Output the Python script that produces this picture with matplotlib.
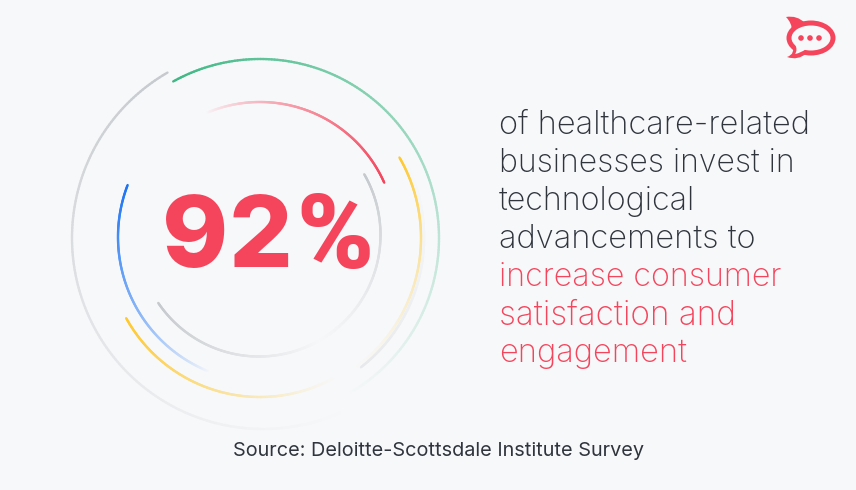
import matplotlib
matplotlib.use("Agg")
import matplotlib.pyplot as plt
import numpy as np
from matplotlib.collections import LineCollection
from matplotlib.colors import to_rgb
from matplotlib.patches import Circle, Ellipse, PathPatch
from matplotlib.path import Path

BG = "#f7f8fa"
RED = "#f5455c"
DARK = "#2f343d"

# text content
digits = ["9", "2"]
percent = "%"
body_dark = ["of healthcare-related", "businesses invest in", "technological", "advancements to"]
body_red = ["increase consumer", "satisfaction and", "engagement"]
source = "Source: Deloitte-Scottsdale Institute Survey"

# arcs: centre x, centre y, radius, angle at strong end, angle at faded end, colour, start strength, fade power
arc_cx = [260, 263, 260, 260, 263, 260, 260, 259, 259]
arc_cy = [238, 238, 238, 238, 237, 244, 238, 235, 235]
arc_r = [164, 191, 179, 136, 145, 153, 161, 121.5, 121.5]
arc_from = [52, 240, -119, -24, 201, 151, -30, -30, 146]
arc_to = [-36, 60, 62, -113, 112, 60, 58, 62, 60]
arc_col = ["#d5d7da", "#c6c9cd", "#3fb884", RED, "#1d74f5", "#ffc92e", "#ffc92e", "#c6c9cd", "#c6c9cd"]
arc_alpha = [0.45, 1, 1, 1, 1, 1, 1, 1, 1]
arc_pow = [1.4, 1.3, 1.1, 0.75, 0.8, 1.1, 1.6, 1.2, 1.0]


def draw_arc(ax, cx, cy, r, a0, a1, col, alpha, power):
    # short opaque segments, colour blended into the background so the caps do not pile up
    t = np.radians(np.linspace(a0, a1, 200))
    pts = np.column_stack([cx + r * np.cos(t), cy + r * np.sin(t)])
    segs = np.stack([pts[:-1], pts[1:]], axis=1)
    fade = alpha * np.linspace(1, 0, len(segs)) ** power
    rgb, bg = np.array(to_rgb(col)), np.array(to_rgb(BG))
    colors = [tuple(bg + (rgb - bg) * f) for f in fade]
    # faded end first, so the strong colour stays on top
    ax.add_collection(LineCollection(segs[::-1], colors=colors[::-1], linewidths=1.7, capstyle="round"))


def draw_logo(ax):
    # fin and tail first, then the bubble on top
    fin = Path([(786, 17), (797, 15), (805, 23), (798, 25), (792, 31), (792, 23), (786, 17)],
               [Path.MOVETO, Path.CURVE3, Path.CURVE3, Path.LINETO, Path.LINETO, Path.CURVE3, Path.CURVE3])
    ax.add_patch(PathPatch(fin, fc=RED, ec="none"))
    tail = Path([(792, 44), (796, 54), (787, 57), (798, 61), (807, 53), (792, 44)],
                [Path.MOVETO, Path.CURVE3, Path.CURVE3, Path.CURVE3, Path.CURVE3, Path.LINETO])
    ax.add_patch(PathPatch(tail, fc=RED, ec="none"))
    ax.add_patch(Ellipse((811, 38), 49, 35, fc=RED, ec="none"))
    ax.add_patch(Ellipse((811, 38), 39, 25, fc=BG, ec="none"))
    tail_in = Path([(795, 44), (798, 50), (795, 54), (801, 53), (806, 49), (795, 44)],
                   [Path.MOVETO, Path.CURVE3, Path.CURVE3, Path.CURVE3, Path.CURVE3, Path.LINETO])
    ax.add_patch(PathPatch(tail_in, fc=BG, ec="none"))
    for x in (801, 810, 819):
        ax.add_patch(Circle((x, 38), 2.8, fc=RED, ec="none"))


fig = plt.figure(figsize=(8.56, 4.90), dpi=100, facecolor=BG)
ax = fig.add_axes([0, 0, 1, 1])
ax.set_xlim(0, 856)
ax.set_ylim(490, 0)
ax.axis("off")

for i in range(len(arc_cx)):
    draw_arc(ax, arc_cx[i], arc_cy[i], arc_r[i], arc_from[i], arc_to[i], arc_col[i], arc_alpha[i], arc_pow[i])

# glyphs placed one by one, the reference has tight letter spacing
ax.text(195, 267, digits[0], family="Inter", weight=800, fontsize=72, color=RED, ha="center", va="baseline")
ax.text(260, 267, digits[1], family="Inter", weight=800, fontsize=72, color=RED, ha="center", va="baseline")
# Inter's percent sign is too wide here, the Roboto one has about the right width
ax.text(335, 268, percent, family="Roboto", weight=900, fontsize=75, color=RED, ha="center", va="baseline")

# sizes nudged per line, the installed Inter runs a bit differently from the original
sizes = [23.5, 23.0, 23.3, 23.5, 23.2, 24.0, 23.5]
y = 122
for line, size in zip(body_dark, sizes[:4]):
    ax.text(499, y, line, family="Inter", weight="light", fontsize=size, color=DARK, ha="left", va="center_baseline")
    y += 38
for line, size in zip(body_red, sizes[4:]):
    ax.text(499, y, line, family="Inter", weight="light", fontsize=size, color=RED, ha="left", va="center_baseline")
    y += 38

ax.text(439, 449, source, family="Inter", fontsize=14.3, color=DARK, ha="center", va="center_baseline")

draw_logo(ax)

fig.savefig("out.png", dpi=100, facecolor=BG)
